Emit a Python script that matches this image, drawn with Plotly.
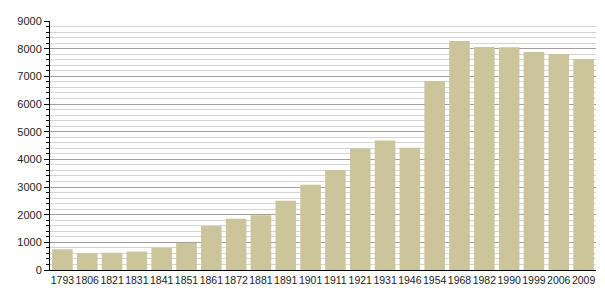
import plotly.graph_objects as go

years = ["1793", "1806", "1821", "1831", "1841", "1851", "1861", "1872", "1881", "1891", "1901",
         "1911", "1921", "1931", "1946", "1954", "1968", "1982", "1990", "1999", "2006", "2009"]
population = [750, 610, 625, 665, 795, 975, 1590, 1850, 1975, 2500, 3080,
              3610, 4400, 4680, 4420, 6830, 8280, 8060, 8050, 7880, 7810, 7630]
y_ticks = list(range(0, 9001, 1000))

fig = go.Figure(go.Bar(
    x=years, y=population,
    marker=dict(color="rgb(204,196,154)", line=dict(width=0)),
    width=0.83,
))

fig.update_layout(
    width=605, height=300,
    margin=dict(l=50, r=9, t=21, b=30),
    paper_bgcolor="white", plot_bgcolor="white",
    font=dict(family="Liberation Sans, Arial, sans-serif", size=11, color="#222"),
    showlegend=False,
)
fig.update_xaxes(
    type="category", range=[-0.5, len(years) - 0.5],
    showline=True, linecolor="black", linewidth=1,
    ticks="", showgrid=False, tickfont=dict(size=10.5),
    tickangle=0, automargin=False, ticklabelstandoff=0,
)
fig.update_yaxes(
    range=[0, 9000], tickvals=y_ticks, ticktext=[str(v) for v in y_ticks],
    showline=True, linecolor="black", linewidth=1,
    ticks="outside", ticklen=5, tickcolor="black",
    showgrid=True, gridcolor="#a0a0a0", gridwidth=1,
    zeroline=False, automargin=False,
    minor=dict(dtick=200, ticks="outside", ticklen=3, tickcolor="black",
               showgrid=True, gridcolor="#d4d4d4", gridwidth=1),
)

fig.write_html("out.html")
